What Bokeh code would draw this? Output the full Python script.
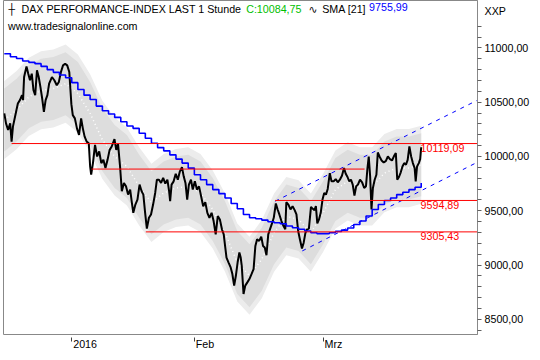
from bokeh.plotting import figure
from bokeh.models import Range1d, Label, FixedTicker, CustomJSTickFormatter
from bokeh.embed import file_html
from bokeh.resources import INLINE

# ---- data (x = trading-day index, 0 = 14 Dec 2015; 11 = 4 Jan, 31 = 1 Feb, 52 = 1 Mar) ----
price_day = [
    0.00, 0.28, 0.62, 0.96, 1.19, 1.41, 1.75, 2.21, 2.55, 2.89,
    3.06, 3.23, 3.62, 3.91, 4.19, 4.48, 4.76, 5.04, 5.33, 5.61,
    5.89, 6.18, 6.46, 6.74, 7.03, 7.31, 7.77, 8.16, 8.56, 8.90,
    9.24, 9.58, 9.92, 10.26, 10.60, 10.94, 11.17, 11.51, 11.85, 12.19,
    12.53, 12.81, 13.10, 13.44, 13.78, 14.00, 14.17, 14.46, 14.80, 15.14,
    15.48, 15.82, 16.16, 16.50, 16.84, 17.18, 17.52, 17.97, 18.26, 18.55,
    18.88, 19.17, 19.51, 19.85, 20.19, 20.53, 20.81, 21.04, 21.38, 21.72,
    22.06, 22.40, 22.68, 22.97, 23.25, 23.59, 23.93, 24.27, 24.61, 24.89,
    25.23, 25.57, 25.91, 26.26, 26.60, 26.88, 27.05, 27.28, 27.62, 27.96,
    28.30, 28.64, 28.98, 29.26, 29.55, 29.83, 30.11, 30.45, 30.74, 31.08,
    31.42, 31.76, 32.10, 32.44, 32.78, 33.12, 33.46, 33.81, 34.14, 34.48,
    34.82, 35.16, 35.50, 35.79, 36.01, 36.24, 36.58, 36.92, 37.20, 37.49,
    37.77, 38.05, 38.34, 38.56, 38.73, 39.02, 39.30, 39.64, 39.98, 40.32,
    40.66, 40.95, 41.23, 41.57, 41.91, 42.20, 42.48, 42.76, 43.05, 43.33,
    43.61, 43.95, 44.29, 44.58, 44.86, 45.20, 45.54, 45.83, 46.00, 46.34,
    46.68, 47.02, 47.36, 47.65, 47.93, 48.21, 48.55, 48.83, 49.12, 49.40,
    49.68, 50.02, 50.31, 50.59, 50.82, 51.05, 51.33, 51.61, 51.90, 52.18,
    52.46, 52.75, 53.09, 53.37, 53.71, 54.05, 54.39, 54.73, 55.07, 55.41,
    55.69, 55.98, 56.26, 56.54, 56.83, 57.11, 57.39, 57.68, 58.02, 58.36,
    58.70, 58.99, 59.21, 59.44, 59.67, 59.89, 60.12, 60.41, 60.69, 60.92,
    61.20, 61.54, 61.88, 62.22, 62.56, 62.90, 63.24, 63.58, 63.86, 64.09,
    64.37, 64.66, 64.94, 65.22, 65.51, 65.79, 66.07, 66.36, 66.64, 66.93,
    67.10, 67.32, 67.61, 67.83, 68.00,
]
price_val = [
    10397, 10305, 10244, 10305, 10137, 10275, 10366, 10488, 10519, 10565,
    10519, 10732, 10830, 10763, 10702, 10763, 10610, 10565, 10794, 10732,
    10641, 10534, 10412, 10519, 10565, 10671, 10732, 10702, 10656, 10687,
    10778, 10839, 10854, 10839, 10778, 10482, 10381, 10351, 10259, 10198,
    10351, 10259, 10183, 10137, 10122, 9908, 9832, 9939, 10107, 10000,
    10046, 9939, 9969, 9893, 9969, 10061, 10092, 10159, 10061, 10116,
    9908, 9680, 9756, 9725, 9649, 9695, 9573, 9481, 9557, 9603,
    9741, 9680, 9649, 9481, 9335, 9435, 9466, 9557, 9664, 9786,
    9786, 9756, 9802, 9750, 9786, 9680, 9588, 9741, 9771, 9841,
    9786, 9863, 9902, 9817, 9756, 9603, 9741, 9786, 9695, 9771,
    9695, 9725, 9634, 9542, 9579, 9481, 9435, 9481, 9405, 9283,
    9451, 9420, 9329, 9283, 9176, 9069, 9023, 8978, 8917, 8810,
    8901, 9023, 9115, 9069, 8993, 8733, 8810, 8840, 8871, 8917,
    8962, 9176, 9237, 9222, 9261, 9176, 9161, 9090, 9283, 9329,
    9374, 9435, 9567, 9512, 9466, 9405, 9359, 9329, 9579, 9557,
    9512, 9542, 9506, 9466, 9313, 9237, 9152, 9206, 9298, 9329,
    9335, 9536, 9518, 9506, 9542, 9383, 9420, 9481, 9603, 9664,
    9649, 9701, 9847, 9771, 9771, 9792, 9762, 9786, 9823, 9893,
    9841, 9811, 9771, 9786, 9741, 9640, 9725, 9741, 9786, 9762,
    9710, 9725, 9878, 10000, 9817, 9512, 9710, 9786, 9832, 10037,
    10000, 9963, 9945, 9957, 10000, 9976, 9963, 10006, 10031, 9786,
    9811, 9854, 9908, 9939, 9924, 9969, 10092, 10000, 9939, 9893,
    9771, 9908, 9939, 9976, 10084.75,
]

sma_day = list(range(69))
sma_val = [
    10946, 10919, 10903, 10879, 10867, 10855, 10830, 10800, 10775, 10751,
    10725, 10680, 10617, 10565, 10525, 10464, 10421, 10391, 10360, 10320,
    10281, 10259, 10214, 10168, 10122, 10082, 10052, 10015, 9976, 9939,
    9893, 9832, 9786, 9741, 9695, 9658, 9618, 9567, 9518, 9466,
    9435, 9426, 9414, 9399, 9390, 9380, 9359, 9344, 9329, 9313,
    9298, 9289, 9289, 9298, 9310, 9322, 9341, 9374, 9405, 9451,
    9512, 9557, 9594, 9618, 9649, 9670, 9695, 9716, 9755.99,
]

band_day = list(range(0, 69, 2))
band_mid = [10336, 10427, 10549, 10610, 10626, 10671, 10580, 10397, 10153, 10000,
            9908, 9725, 9573, 9664, 9710, 9725, 9664, 9512, 9298, 9023,
            8901, 9054, 9298, 9451, 9420, 9298, 9481, 9695, 9771, 9725,
            9725, 9847, 9893, 9893, 9924]
inner_hi = [10626, 10717, 10839, 10900, 10916, 10961, 10870, 10687, 10443, 10290,
            10198, 10015, 9863, 9954, 10000, 10015, 9954, 9802, 9588, 9313,
            9191, 9344, 9588, 9741, 9710, 9588, 9771, 9985, 10061, 10015,
            10015, 10137, 10183, 10183, 10214]
inner_lo = [10046, 10137, 10259, 10320, 10336, 10381, 10290, 10107, 9863, 9710,
            9618, 9435, 9283, 9374, 9420, 9435, 9374, 9222, 9008, 8733,
            8611, 8764, 9008, 9161, 9130, 9008, 9191, 9405, 9481, 9435,
            9435, 9557, 9603, 9603, 9634]
outer_hi = [10696, 10787, 10909, 10970, 10986, 11031, 10940, 10757, 10513, 10360,
            10268, 10085, 9933, 10024, 10070, 10085, 10024, 9872, 9658, 9383,
            9261, 9414, 9658, 9811, 9780, 9658, 9841, 10055, 10131, 10085,
            10085, 10207, 10253, 10253, 10284]
outer_lo = [9976, 10067, 10189, 10250, 10266, 10311, 10220, 10037, 9793, 9640,
            9548, 9365, 9213, 9304, 9350, 9365, 9304, 9152, 8938, 8663,
            8541, 8694, 8938, 9091, 9060, 8938, 9121, 9335, 9411, 9365,
            9365, 9487, 9533, 9533, 9564]

# trend channel (start day, start price, end day, end price)
ch_x0 = [44.18, 48.60]
ch_y0 = [9588, 9130]
ch_x1 = [77.19, 77.19]
ch_y1 = [10519, 9948]

# horizontal support / resistance lines
hl_price = [10119.09, 9884, 9594.89, 9305.43]
hl_start = [1.19, 14.23, 44.18, 23.08]
hl_end = [77.19, 58.76, 77.19, 77.19]
hl_labeled = [True, False, True, True]

tick_days = [11, 31, 52]
tick_labels = ["2016", "Feb", "Mrz"]

y_major = [8500, 9000, 9500, 10000, 10500, 11000]
y_minor_step = 100

last_close = 10084.75
last_sma = 9755.99

# ---- layout ----
PX_PER_DAY = 6.144
X0, X1 = -0.13, 77.18
Y0, Y1 = 8360, 11437
FONT = "Liberation Sans"
FS = "10.7px"

p = figure(width=532, height=352, x_range=Range1d(X0, X1), y_range=Range1d(Y0, Y1),
           output_backend="svg", toolbar_location=None,
           x_axis_location="below", y_axis_location="right",
           min_border_left=3, min_border_top=0, min_border_right=54, min_border_bottom=16)
p.outline_line_color = "#888888"
p.grid.visible = False
p.background_fill_color = "white"
p.border_fill_color = "white"

# envelope band
p.varea(x=band_day, y1=outer_lo, y2=outer_hi, fill_color="#ececec")
p.varea(x=band_day, y1=inner_lo, y2=inner_hi, fill_color="#dddddd")
p.line(band_day, band_mid, line_color="white", line_dash="1 3", line_width=1.5)

# price
p.line(price_day, price_val, line_color="black", line_width=2)
# SMA
p.step(sma_day, sma_val, mode="after", line_color="#0000ff", line_width=1.6)
# channel
p.segment(x0=ch_x0, y0=ch_y0, x1=ch_x1, y1=ch_y1, line_color="#0000ff",
          line_dash="4 5", line_width=1)
# horizontal lines
p.segment(x0=hl_start, y0=hl_price, x1=hl_end, y1=hl_price, line_color="#ff0000", line_width=1)


def fmt(v):
    return f"{v:.2f}".replace(".", ",")


for pr, lab in zip(hl_price, hl_labeled):
    if lab:
        p.add_layout(Label(x=67.9, y=pr - 5, text=fmt(pr), text_baseline="top", text_align="left",
                           text_font=FONT, text_font_size=FS, text_color="#ff0000"))


def hdr(x, y, t, color="black", font=FONT):
    p.add_layout(Label(x=x, y=y, text=t, text_baseline="top", text_align="left",
                       text_font=font, text_font_size=FS, text_color=color))


H1, H2 = 11418, 11254
hdr(0.68, H1, "┼", font="DejaVu Sans")
hdr(2.80, H1, "DAX PERFORMANCE-INDEX LAST 1 Stunde")
hdr(39.45, H1, "C:" + fmt(last_close), color="#00c000")
hdr(49.6, H1, "∿", font="DejaVu Sans")
hdr(51.85, H1, "SMA [21]")
hdr(59.5, H1, fmt(last_sma), color="#0000ff")
hdr(0.60, H2, "www.tradesignalonline.com")

# ---- right y axis: numbers plus the "XXP" header next to the top ----
XXP_POS = 11341
yax = p.yaxis[0]
y_minor = list(range(8400, 11201, y_minor_step))
yax.ticker = FixedTicker(ticks=y_major + [XXP_POS], minor_ticks=y_minor)
yax.formatter = CustomJSTickFormatter(
    args=dict(xxp=XXP_POS),
    code="if (Math.abs(tick - xxp) < 1) { return 'XXP'; } return tick.toFixed(2).replace('.', ',');")
yax.major_tick_in = 0
yax.major_tick_out = 0
yax.minor_tick_in = 0
yax.minor_tick_out = 4
yax.axis_line_color = "#888888"
yax.minor_tick_line_color = "#606060"
yax.major_label_standoff = 3
yax.major_label_text_font = FONT
yax.major_label_text_font_size = FS
yax.major_label_text_color = "black"

# ---- bottom x axis: tick marks at month starts (minor ticks), labels just right of them ----
label_w_px = {"2016": 23.8, "Feb": 18.4, "Mrz": 17.8}
label_pos = [d + (1.5 + label_w_px[t] / 2) / PX_PER_DAY for d, t in zip(tick_days, tick_labels)]
xax = p.xaxis[0]
xax.ticker = FixedTicker(ticks=label_pos, minor_ticks=tick_days)
xax.formatter = CustomJSTickFormatter(
    args=dict(pos=label_pos, labs=tick_labels),
    code="for (let i = 0; i < pos.length; i++) { if (Math.abs(tick - pos[i]) < 0.01) return labs[i]; } return '';")
xax.major_tick_in = 0
xax.major_tick_out = 0
xax.minor_tick_in = -3
xax.minor_tick_out = 7
xax.axis_line_color = None
xax.minor_tick_line_color = "#404040"
xax.major_label_standoff = -4
xax.major_label_text_font = FONT
xax.major_label_text_font_size = FS
xax.major_label_text_color = "black"

open("out.html", "w").write(file_html(p, INLINE))
